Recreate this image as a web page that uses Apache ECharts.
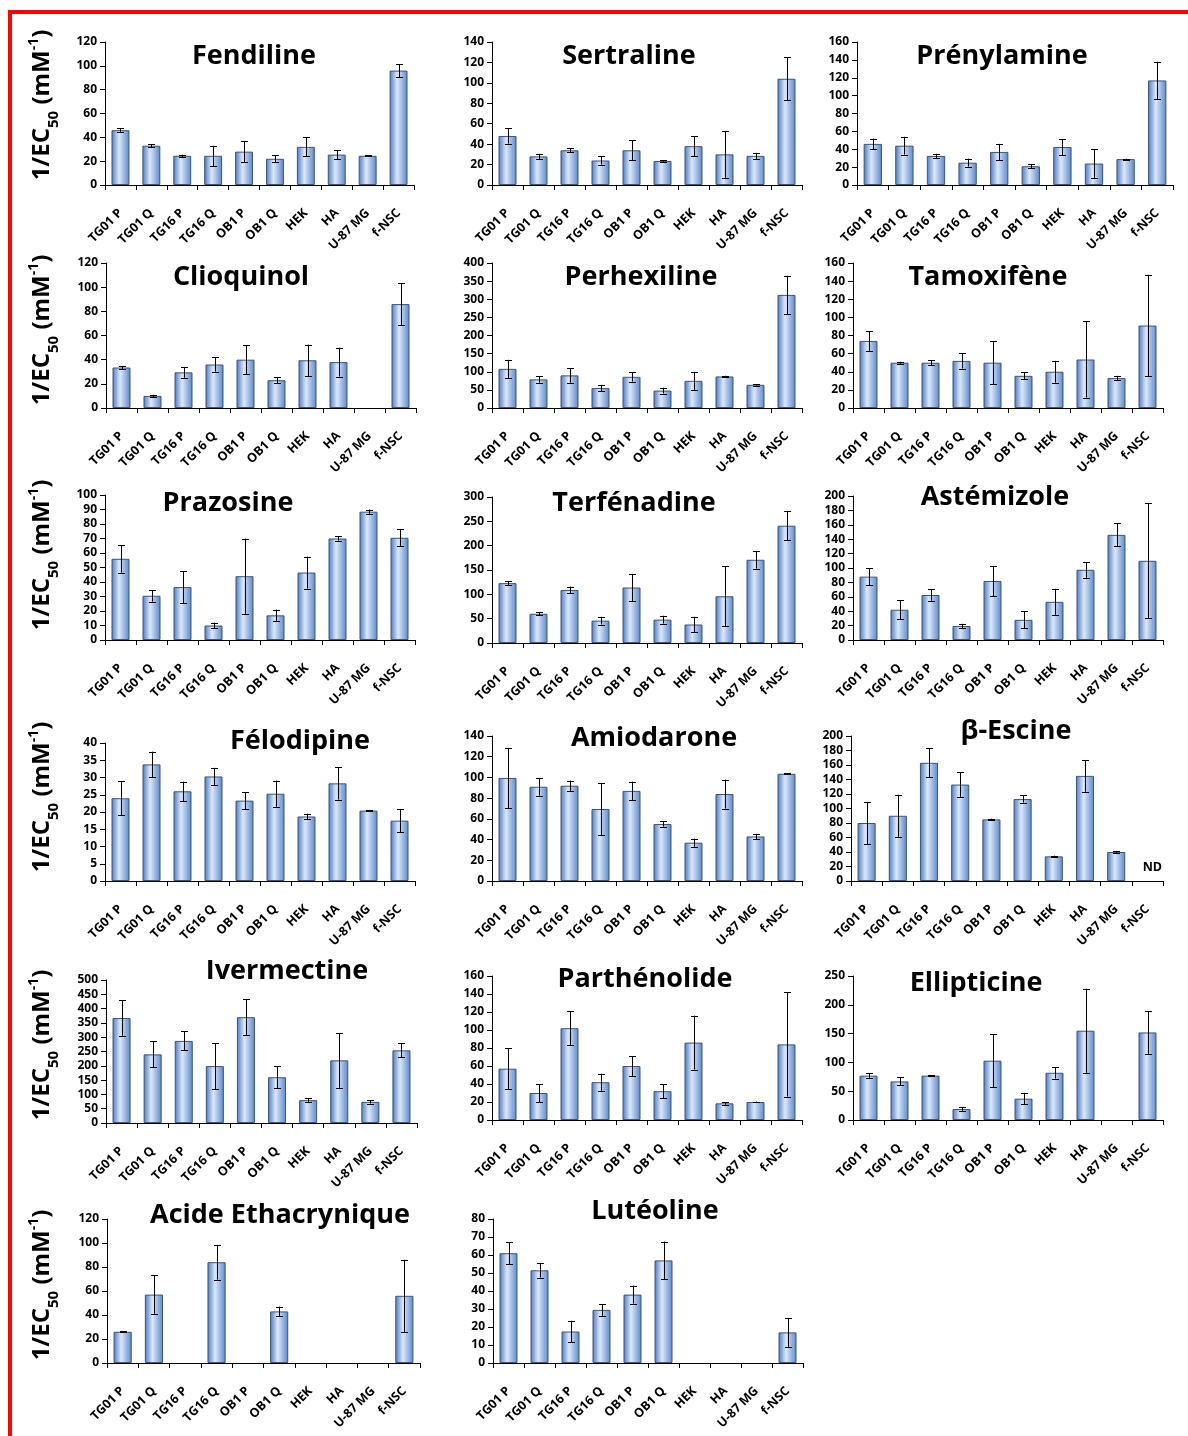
<!DOCTYPE html>
<html>
<head>
<meta charset="utf-8">
<script src="https://cdn.jsdelivr.net/npm/echarts@6/dist/echarts.min.js"></script>
<style>
html,body{margin:0;padding:0;background:#fff;}
#chart{width:1188px;height:1436px;}
</style>
</head>
<body>
<div id="chart"></div>
<script>
// ---------- DATA ----------
const categories = ['TG01 P','TG01 Q','TG16 P','TG16 Q','OB1 P','OB1 Q','HEK','HA','U-87 MG','f-NSC'];

const fendilineMean = [46, 33, 24.5, 24.5, 28, 22, 32, 25.5, 24.5, 96];
const fendilineErr  = [1.5, 1, 1, 8.5, 9, 3, 8, 4, 0.5, 5.5];

const sertralineMean = [48, 28, 34, 24, 34, 23.5, 38, 30, 28.5, 104];
const sertralineErr  = [7.5, 2.5, 2, 4, 10, 1, 10, 23, 3, 21];

const prenylamineMean = [46, 44, 32.5, 25, 37, 21, 42.5, 24, 29, 117];
const prenylamineErr  = [6, 10, 2.5, 4.5, 9, 2, 9, 16, 0.5, 21];

const clioquinolMean = [33.5, 10, 29.5, 36, 40, 23, 39.5, 38, null, 86];
const clioquinolErr  = [1.3, 1, 4.5, 6, 12, 2.5, 13, 12, null, 17.5];

const perhexilineMean = [108, 79, 90, 55, 86, 48, 75, 87, 64, 312];
const perhexilineErr  = [25, 9, 20, 9, 13, 8, 25, 2, 2, 53];

const tamoxifeneMean = [74, 50, 50, 52, 50, 35.5, 40, 53.5, 33, 91];
const tamoxifeneErr  = [11, 1, 3, 8.5, 24, 4, 12, 42, 2.5, 56];

const prazosineMean = [56, 30.5, 36.5, 10, 44, 17, 46.5, 70, 88.5, 70.5];
const prazosineErr  = [9.5, 4, 11, 2, 26, 4, 11, 1.5, 1.5, 6];

const terfenadineMean = [123, 60, 109, 46, 114, 48, 38, 96, 171, 241];
const terfenadineErr  = [4, 3, 7, 8, 28, 8, 16, 62, 18, 30];

const astemizoleMean = [88, 42, 62.5, 19.5, 82, 28, 53, 97.5, 146, 110];
const astemizoleErr  = [12, 13, 8, 3, 21, 12, 18, 11, 16, 80];

const felodipineMean = [24, 33.8, 26, 30.3, 23.3, 25.3, 18.7, 28.3, 20.4, 17.5];
const felodipineErr  = [5, 3.7, 2.8, 2.5, 2.5, 3.8, 0.8, 4.7, 0.2, 3.3];

const amiodaroneMean = [99.5, 91, 92, 69.5, 87, 55, 37, 84, 43, 103.5];
const amiodaroneErr  = [29, 8.5, 5, 25, 9, 2.5, 4, 14, 2.5, 0.5];

const escineMean = [80, 90, 163, 133, 85, 113, 34, 145, 40, null];
const escineErr  = [29, 29, 20, 17, 1, 5, 1, 22, 1, null];
const escineNotDetermined = [false, false, false, false, false, false, false, false, false, true];

const ivermectineMean = [367, 240, 287, 199, 370, 160, 80, 219, 74, 254];
const ivermectineErr  = [62, 45, 33, 80, 62, 38, 6, 96, 6, 24];

const parthenolideMean = [57, 30, 102, 42, 60, 32, 86, 18.5, 20, 84];
const parthenolideErr  = [23, 10, 19, 9.5, 11, 8, 30, 1.5, 0.5, 58];

const ellipticineMean = [77, 67, 77, 19, 103, 37, 82, 155, null, 152];
const ellipticineErr  = [4, 7, 1, 3, 46, 10, 10, 73, null, 37];

const ethacryniqueMean = [26, 57, null, 84, null, 43, null, null, null, 56];
const ethacryniqueErr  = [0.5, 16, null, 14.5, null, 4, null, null, null, 30];

const luteolineMean = [61, 51.5, 17.5, 29.5, 38, 57, null, null, null, 17];
const luteolineErr  = [6, 4, 6, 3.3, 5, 10.5, null, null, null, 8];

const panelTitles = ['Fendiline','Sertraline','Prénylamine','Clioquinol','Perhexiline','Tamoxifène',
  'Prazosine','Terfénadine','Astémizole','Félodipine','Amiodarone','β-Escine',
  'Ivermectine','Parthénolide','Ellipticine','Acide Ethacrynique','Lutéoline'];
const yAxisMax  = [120, 140, 160, 120, 400, 160, 100, 300, 200, 40, 140, 200, 500, 160, 250, 120, 80];
const yAxisStep = [20, 20, 20, 20, 50, 20, 10, 50, 20, 5, 20, 20, 50, 20, 50, 20, 10];

const panelMeans = [fendilineMean, sertralineMean, prenylamineMean, clioquinolMean, perhexilineMean, tamoxifeneMean,
  prazosineMean, terfenadineMean, astemizoleMean, felodipineMean, amiodaroneMean, escineMean,
  ivermectineMean, parthenolideMean, ellipticineMean, ethacryniqueMean, luteolineMean];
const panelErrs = [fendilineErr, sertralineErr, prenylamineErr, clioquinolErr, perhexilineErr, tamoxifeneErr,
  prazosineErr, terfenadineErr, astemizoleErr, felodipineErr, amiodaroneErr, escineErr,
  ivermectineErr, parthenolideErr, ellipticineErr, ethacryniqueErr, luteolineErr];

// ---------- LAYOUT ----------
const gridBoxes = [
  [105, 42, 309, 143], [492, 42, 310, 143], [857, 42, 316, 143],
  [106, 263, 310, 145], [492, 263, 310, 145], [853, 263, 310, 145],
  [105, 495, 310, 145], [492, 497, 310, 146], [853, 496, 310, 144],
  [105, 743, 310, 138], [492, 736, 310, 145], [851, 736, 312, 145],
  [106, 980, 311, 143], [492, 976, 310, 144], [853, 976, 310, 144],
  [107, 1219, 313, 144], [493, 1219, 310, 144]
];
const titleCenters = [
  [254, 56], [629, 56], [1002, 56],
  [241, 277], [641, 277], [988, 277],
  [228, 503], [634, 503], [995, 497],
  [300, 741], [654, 738], [1016, 731],
  [287, 971], [645, 979], [976, 983],
  [280, 1215], [655, 1211]
];
const yNameCenters = [105, 330, 555, 797, 1045, 1285];

const FONT = '"Open Sans", "Noto Sans", sans-serif';

const barFill = new echarts.graphic.LinearGradient(0, 0, 1, 0, [
  {offset: 0, color: '#4A7AC4'},
  {offset: 0.42, color: '#DCE8F8'},
  {offset: 1, color: '#5787CE'}
]);

const grids = [], xAxes = [], yAxes = [], series = [], titles = [];

panelTitles.forEach((name, i) => {
  const b = gridBoxes[i];
  grids.push({left: b[0], top: b[1], width: b[2], height: b[3], containLabel: false});
  titles.push({
    text: name, left: titleCenters[i][0], top: titleCenters[i][1], padding: 0,
    textAlign: 'center', textVerticalAlign: 'middle',
    textStyle: {fontFamily: FONT, fontWeight: 'bold', fontSize: 27, color: '#000'}
  });
  xAxes.push({
    type: 'category', gridIndex: i, data: categories,
    axisLine: {lineStyle: {color: '#000', width: 1}},
    axisTick: {show: true, length: 5, lineStyle: {color: '#000'}},
    axisLabel: {rotate: 45, interval: 0, margin: 26, fontFamily: FONT, fontWeight: 'bold', fontSize: 12.5, color: '#000'},
    splitLine: {show: false}
  });
  yAxes.push({
    type: 'value', gridIndex: i, min: 0, max: yAxisMax[i], interval: yAxisStep[i],
    axisLine: {show: true, lineStyle: {color: '#000', width: 1}},
    axisTick: {show: true, length: 5, lineStyle: {color: '#000'}},
    axisLabel: {margin: 8, fontFamily: FONT, fontWeight: 'bold', fontSize: 12, color: '#000'},
    splitLine: {show: false}
  });
  const means = panelMeans[i];
  const errs = panelErrs[i];
  const barData = means.map((v, k) => {
    if (i === 11 && escineNotDetermined[k]) {
      return {value: 0, itemStyle: {color: 'rgba(0,0,0,0)', borderWidth: 0},
        label: {show: true, position: 'top', distance: 7, offset: [5, 0], formatter: 'ND',
          fontFamily: FONT, fontWeight: 'bold', fontSize: 12.5, color: '#000'}};
    }
    return v == null ? '-' : v;
  });
  series.push({
    type: 'bar', xAxisIndex: i, yAxisIndex: i, data: barData, barWidth: '58%',
    itemStyle: {color: barFill, borderColor: '#3D5576', borderWidth: 1},
    emphasis: {disabled: true}, animation: false
  });
  const errData = [];
  means.forEach((v, k) => { if (v != null && errs[k] != null) errData.push([k, v, errs[k]]); });
  series.push({
    type: 'custom', xAxisIndex: i, yAxisIndex: i, data: errData, z: 5, animation: false,
    renderItem: function (params, api) {
      const k = api.value(0), v = api.value(1), e = api.value(2);
      const top = api.coord([k, v + e]);
      const bot = api.coord([k, Math.max(0, v - e)]);
      const x = Math.round(top[0]) + 0.5;
      const hw = 3.5;
      const st = {stroke: '#000', lineWidth: 1};
      return {type: 'group', children: [
        {type: 'line', shape: {x1: x, y1: top[1], x2: x, y2: bot[1]}, style: st},
        {type: 'line', shape: {x1: x - hw, y1: Math.round(top[1]) + 0.5, x2: x + hw, y2: Math.round(top[1]) + 0.5}, style: st},
        {type: 'line', shape: {x1: x - hw, y1: Math.round(bot[1]) + 0.5, x2: x + hw, y2: Math.round(bot[1]) + 0.5}, style: st}
      ]};
    }
  });
});

const graphics = [
  {type: 'rect', shape: {x: 8, y: 10, width: 1180, height: 4}, style: {fill: '#FF0000'}, silent: true},
  {type: 'rect', shape: {x: 8, y: 10, width: 4, height: 1426}, style: {fill: '#FF0000'}, silent: true}
];
yNameCenters.forEach(cy => {
  graphics.push({
    type: 'text', x: 42, y: cy, rotation: Math.PI / 2, silent: true,
    style: {
      text: '{a|1/EC}{b|50}{a| (mM}{c|-1}{a|)}',
      align: 'center', verticalAlign: 'middle',
      rich: {
        a: {fontFamily: FONT, fontWeight: 'bold', fontSize: 24, fill: '#000', lineHeight: 30},
        b: {fontFamily: FONT, fontWeight: 'bold', fontSize: 15, fill: '#000', verticalAlign: 'bottom', lineHeight: 30, padding: [0, 0, -4, 0]},
        c: {fontFamily: FONT, fontWeight: 'bold', fontSize: 14, fill: '#000', verticalAlign: 'top', lineHeight: 30}
      }
    }
  });
});

const chart = echarts.init(document.getElementById('chart'), null, {renderer: 'canvas'});
chart.setOption({
  backgroundColor: '#fff',
  animation: false,
  title: titles,
  grid: grids,
  xAxis: xAxes,
  yAxis: yAxes,
  series: series,
  graphic: graphics
});
</script>
</body>
</html>
